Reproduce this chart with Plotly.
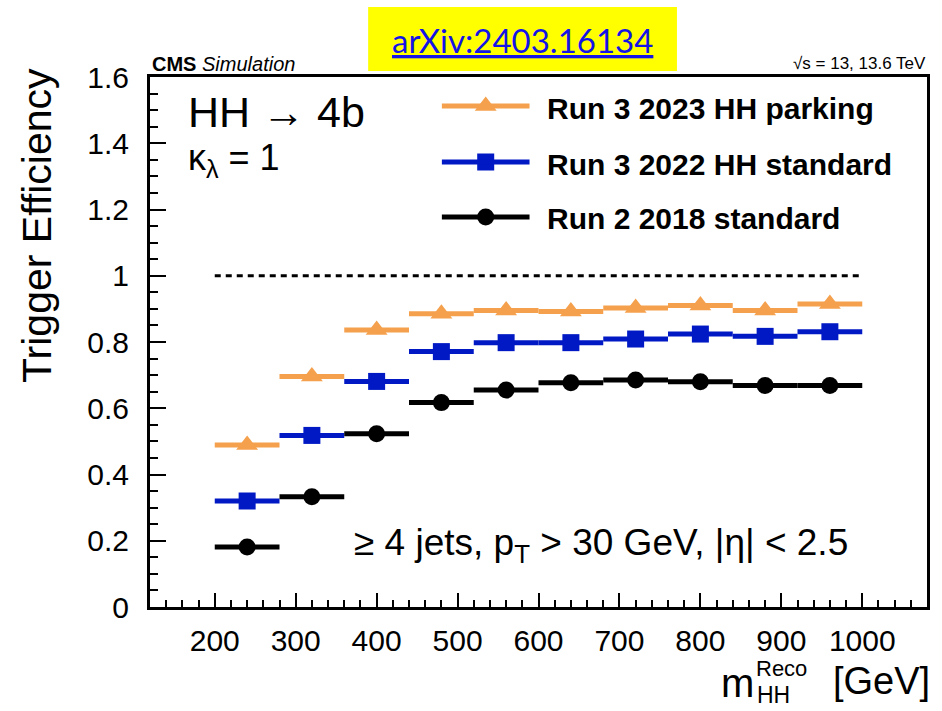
import plotly.graph_objects as go

# ---------------- data ----------------
bin_centers = [240, 320, 400, 480, 560, 640, 720, 800, 880, 960]
bin_half_width = 40
eff_run3_2023_parking = [0.489, 0.696, 0.836, 0.885, 0.895, 0.892, 0.903, 0.910, 0.895, 0.915]
eff_run3_2022_standard = [0.320, 0.518, 0.681, 0.771, 0.798, 0.798, 0.809, 0.824, 0.817, 0.831]
eff_run2_2018_standard = [0.181, 0.333, 0.523, 0.617, 0.655, 0.677, 0.685, 0.680, 0.669, 0.669]
series_names = ["Run 3 2023 HH parking", "Run 3 2022 HH standard", "Run 2 2018 standard"]
x_tick_vals = [200, 300, 400, 500, 600, 700, 800, 900, 1000]
y_tick_vals = [0, 0.2, 0.4, 0.6, 0.8, 1.0, 1.2, 1.4, 1.6]
y_tick_text = ["0", "0.2", "0.4", "0.6", "0.8", "1", "1.2", "1.4", "1.6"]

ORANGE = "#F4A04C"
BLUE = "#0019C4"
BLACK = "#000000"
FONT = "Liberation Sans, Arial, Helvetica, sans-serif"

W, H = 942, 711
L, R, T, B = 150, 12, 77, 104

fig = go.Figure()

styles = [
    (eff_run3_2023_parking, ORANGE, "triangle-up", 19),
    (eff_run3_2022_standard, BLUE, "square", 17),
    (eff_run2_2018_standard, BLACK, "circle", 17),
]
for (vals, col, sym, size), name in zip(styles, series_names):
    fig.add_trace(go.Scatter(
        x=bin_centers, y=vals, mode="markers", name=name,
        marker=dict(symbol=sym, size=size, color=col, line=dict(width=0)),
        error_x=dict(type="constant", value=bin_half_width, thickness=5, width=0, color=col),
        showlegend=False, cliponaxis=False,
    ))


def px2x(px):
    return (px - L) / (W - L - R)


def px2y(py):
    return 1 - (py - T) / (H - T - B)


# legend drawn manually (ROOT style)
leg_rows = [106, 162, 217]
for (vals, col, sym, size), name, ry in zip(styles, series_names, leg_rows):
    fig.add_shape(type="line", xref="paper", yref="paper",
                  x0=px2x(443), x1=px2x(531), y0=px2y(ry), y1=px2y(ry),
                  line=dict(color=col, width=5))
    fig.add_trace(go.Scatter(
        x=[px2x(487)], y=[px2y(ry)], xaxis="x2", yaxis="y2", mode="markers",
        marker=dict(symbol=sym, size=size, color=col, line=dict(width=0)),
        showlegend=False, hoverinfo="skip"))
    fig.add_annotation(x=px2x(547), y=px2y(ry + 2), xref="paper", yref="paper",
                       text="<b>%s</b>" % name, showarrow=False, xanchor="left",
                       yanchor="middle", font=dict(family=FONT, size=30, color="black"))

# dashed line at efficiency 1
fig.add_shape(type="line", xref="x", yref="y", x0=200, x1=1000, y0=1, y1=1,
              line=dict(color="black", width=3, dash="6px,5px"))

fig.update_layout(
    width=W, height=H,
    margin=dict(l=L, r=R, t=T, b=B),
    paper_bgcolor="white", plot_bgcolor="white",
    xaxis=dict(range=[120, 1080], tickvals=x_tick_vals, ticks="inside", ticklen=14,
               tickwidth=1.5, tickcolor="black", showline=True, linewidth=3,
               linecolor="black", mirror=True, showgrid=False, zeroline=False,
               minor=dict(dtick=20, ticks="inside", ticklen=7, tickcolor="black", tickwidth=1.5),
               tickfont=dict(family=FONT, size=30, color="black"), ticklabelstandoff=5),
    yaxis=dict(range=[0, 1.6], tickvals=y_tick_vals, ticktext=y_tick_text, ticks="inside",
               ticklen=16, tickwidth=1.5, tickcolor="black", showline=True, linewidth=3,
               linecolor="black", mirror=True, showgrid=False, zeroline=False,
               minor=dict(dtick=0.05, ticks="inside", ticklen=8, tickcolor="black", tickwidth=1.5),
               tickfont=dict(family=FONT, size=30, color="black"), ticklabelstandoff=12),
    xaxis2=dict(range=[0, 1], overlaying="x", visible=False, domain=[0, 1]),
    yaxis2=dict(range=[0, 1], overlaying="y", visible=False),
    showlegend=False,
)

ann = [
    dict(x=px2x(150), y=px2y(64), text="<b>CMS</b> <i>Simulation</i>", size=20, xanchor="left"),
    dict(x=px2x(931), y=px2y(64), text="√s = 13, 13.6 TeV", size=17, xanchor="right"),
    dict(x=px2x(186), y=px2y(112), text="HH → 4b", size=43, xanchor="left"),
    dict(x=px2x(186), y=px2y(160), text="κ<sub>λ</sub> = 1", size=36, xanchor="left"),
    dict(x=px2x(353), y=px2y(545), text="≥ 4 jets, p<sub>T</sub> > 30 GeV, |η| < 2.5", size=37, xanchor="left"),
    dict(x=px2x(721), y=px2y(683), text="m", size=40, xanchor="left"),
    dict(x=px2x(756), y=px2y(668), text="Reco", size=22, xanchor="left"),
    dict(x=px2x(757), y=px2y(695), text="HH", size=23, xanchor="left"),
    dict(x=px2x(935), y=px2y(681), text="[GeV]", size=38, xanchor="right"),
]
for a in ann:
    fig.add_annotation(x=a["x"], y=a["y"], xref="paper", yref="paper", text=a["text"],
                       showarrow=False, xanchor=a["xanchor"], yanchor="middle",
                       font=dict(family=FONT, size=a["size"], color="black"))

# y axis title
fig.add_annotation(x=px2x(37), y=px2y(66), xref="paper", yref="paper",
                   text="Trigger Efficiency", textangle=-90, showarrow=False,
                   xanchor="center", yanchor="top",
                   font=dict(family=FONT, size=41, color="black"))

# arXiv banner
fig.add_shape(type="rect", xref="paper", yref="paper", x0=px2x(369), x1=px2x(679),
              y0=px2y(7), y1=px2y(71), fillcolor="#FFFF00", line=dict(width=0), layer="below")
fig.add_annotation(x=px2x(524), y=px2y(40), xref="paper", yref="paper",
                   text="<u>arXiv:2403.16134</u>", showarrow=False,
                   xanchor="center", yanchor="middle",
                   font=dict(family="Lato, Open Sans, sans-serif", size=33, color="#1414E6"))

fig.write_html("out.html")
